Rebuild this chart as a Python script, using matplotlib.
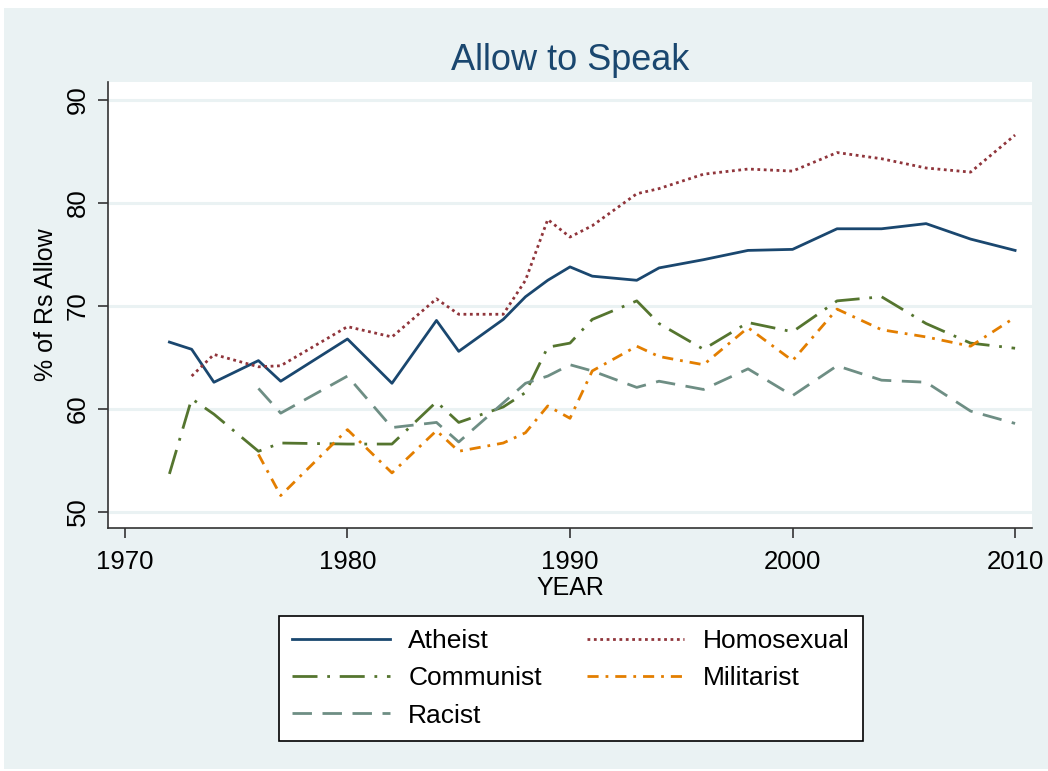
import numpy as np
import matplotlib
matplotlib.use('Agg')
import matplotlib.pyplot as plt
from matplotlib.patches import Rectangle

plt.rcParams['font.family'] = ['Liberation Sans', 'DejaVu Sans']

# %% data
years = [1972, 1973, 1974, 1976, 1977, 1980, 1982, 1984, 1985, 1987, 1988, 1989,
         1990, 1991, 1993, 1994, 1996, 1998, 2000, 2002, 2004, 2006, 2008, 2010]
nan = np.nan
atheist = [66.5, 65.8, 62.6, 64.7, 62.7, 66.8, 62.5, 68.6, 65.6, 68.7, 70.9, 72.5,
           73.8, 72.9, 72.5, 73.7, 74.5, 75.4, 75.5, 77.5, 77.5, 78.0, 76.5, 75.4]
homosexual = [nan, 63.2, 65.3, 64.1, 64.2, 68.0, 67.0, 70.7, 69.2, 69.2, 72.5, 78.4,
              76.7, 77.8, 80.9, 81.4, 82.8, 83.3, 83.1, 84.9, 84.3, 83.4, 83.0, 86.6]
communist = [53.7, 61.0, 59.5, 55.9, 56.7, 56.6, 56.6, 60.7, 58.7, 60.2, 61.6, 66.0,
             66.4, 68.7, 70.5, 68.3, 65.8, 68.4, 67.5, 70.5, 70.9, 68.3, 66.4, 65.9]
militarist = [nan, nan, nan, 55.6, 51.6, 58.0, 53.8, 57.9, 55.9, 56.7, 57.7, 60.3,
              59.1, 63.7, 66.1, 65.1, 64.3, 67.9, 64.7, 69.7, 67.7, 67.0, 66.1, 68.9]
racist = [nan, nan, nan, 62.0, 59.6, 63.2, 58.2, 58.7, 56.8, 60.6, 62.5, 63.2,
          64.3, 63.7, 62.1, 62.7, 61.9, 63.9, 61.3, 64.2, 62.8, 62.6, 59.8, 58.6]

xticks = [1970, 1980, 1990, 2000, 2010]
yticks = [50, 60, 70, 80, 90]

# stata s2color palette
bg = '#EAF2F3'
navy, maroon, green, orange, teal = '#1A476F', '#90353B', '#55752F', '#E37E00', '#6E8E84'

# %% figure
W, H = 1048, 771
fig = plt.figure(figsize=(W / 100, H / 100), dpi=100, facecolor='white')
fig.patches.append(Rectangle((4 / W, 1 - 769 / H), (W - 4) / W, (769 - 8) / H,
                             transform=fig.transFigure, facecolor=bg, edgecolor='none', zorder=-5))

ax = fig.add_axes([108 / W, 1 - 528 / H, (1032 - 108) / W, (528 - 82) / H])
ax.set_facecolor('white')

lw = 2.0
ax.plot(years, atheist, color=navy, lw=lw, ls='-', label='Atheist')
ax.plot(years, homosexual, color=maroon, lw=lw, ls=(0, (1, 1.3)), dash_capstyle='butt',
        label='Homosexual')
ax.plot(years, communist, color=green, lw=lw, ls=(0, (9, 3.5, 1, 3.5)), label='Communist')
ax.plot(years, militarist, color=orange, lw=lw, ls=(0, (4, 2.5, 1, 2.5)), label='Militarist')
ax.plot(years, racist, color=teal, lw=lw, ls=(0, (7, 3.8)), label='Racist')

ax.set_xlim(1969.24, 2010.76)
ax.set_ylim(48.45, 91.75)
ax.set_xticks(xticks)
ax.set_yticks(yticks)
ax.set_yticklabels([str(v) for v in yticks], rotation=90, va='center')
ax.grid(axis='y', color=bg, lw=2.2)
ax.set_axisbelow(True)
for s in ['top', 'right']:
    ax.spines[s].set_visible(False)
for s in ['left', 'bottom']:
    ax.spines[s].set_color('#333333')
    ax.spines[s].set_linewidth(1.2)
ax.tick_params(direction='out', length=7, width=1.2, color='#333333', labelsize=18.5)
ax.tick_params(axis='x', pad=9)
ax.tick_params(axis='y', pad=6)

ax.set_xlabel('YEAR', fontsize=18, labelpad=1)
ax.set_ylabel('% of Rs Allow', fontsize=18, labelpad=6)
ax.set_title('Allow to Speak', fontsize=26, color=navy, pad=9)

h, l = ax.get_legend_handles_labels()
order = [0, 2, 4, 1, 3]
leg = fig.legend([h[i] for i in order], [l[i] for i in order], ncol=2,
                 loc='upper left', bbox_to_anchor=(279 / W, 1 - 616 / H),
                 fontsize=19, frameon=True, fancybox=False, handlelength=3.7,
                 handletextpad=0.7, columnspacing=1.7, labelspacing=0.5,
                 borderpad=0.5, borderaxespad=0, framealpha=1, facecolor='white')
leg.get_frame().set_edgecolor('black')
leg.get_frame().set_linewidth(1.2)

fig.savefig('out.png', dpi=100, facecolor='white')
